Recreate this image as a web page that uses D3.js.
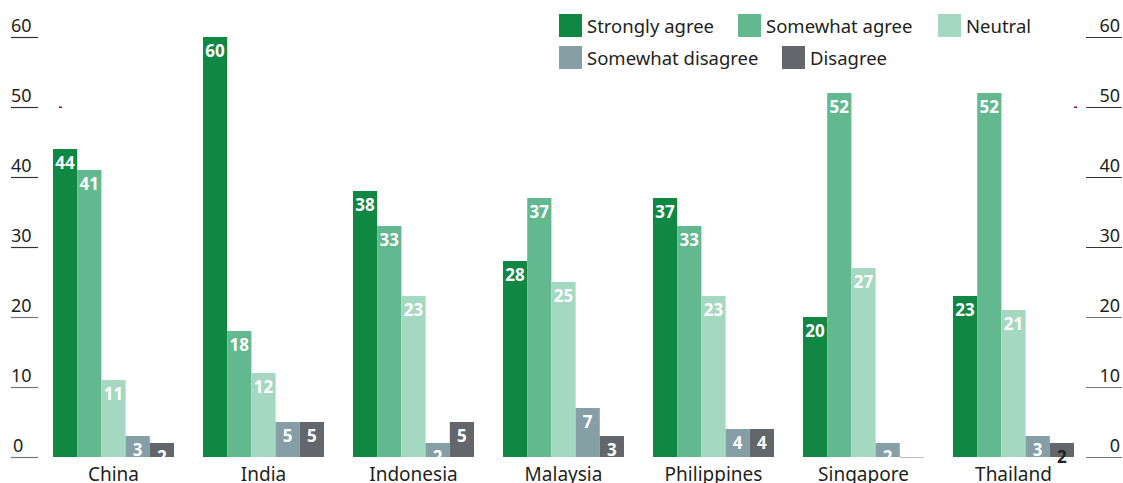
<!DOCTYPE html>
<html>
<head>
<meta charset="utf-8">
<script src="https://cdn.jsdelivr.net/npm/d3@7"></script>
<style>
  body { margin: 0; background: #fff; }
  svg { display: block; font-family: "Noto Sans", sans-serif; }
</style>
</head>
<body>
<div id="chart"></div>
<script>
var countries = ['China', 'India', 'Indonesia', 'Malaysia', 'Philippines', 'Singapore', 'Thailand'];
var seriesNames = ['Strongly agree', 'Somewhat agree', 'Neutral', 'Somewhat disagree', 'Disagree'];
var stronglyAgree = [44, 60, 38, 28, 37, 20, 23];
var somewhatAgree = [41, 18, 33, 37, 33, 52, 52];
var neutral = [11, 12, 23, 25, 23, 27, 21];
var somewhatDisagree = [3, 5, 2, 7, 4, 2, 3];
var disagree = [2, 5, 5, 3, 4, 0, 2];
var yTicks = [0, 10, 20, 30, 40, 50, 60];

var colors = ['#118744', '#62b98f', '#a5d8c1', '#869ea6', '#63676b'];

var W = 1123, H = 483;
var svg = d3.select('#chart').append('svg')
    .attr('width', W)
    .attr('height', H);

var seriesValues = [stronglyAgree, somewhatAgree, neutral, somewhatDisagree, disagree];
var data = countries.map(function(c, i) {
    return { country: c, values: seriesValues.map(function(s, j) { return { key: seriesNames[j], idx: j, value: s[i], country: c }; }) };
});

var x0 = d3.scaleBand().domain(countries).range([53, 1074]).paddingInner(29 / 150).paddingOuter(0);
var x1 = d3.scaleBand().domain(seriesNames).range([0, x0.bandwidth()]).padding(0);
var y = d3.scaleLinear().domain([0, 60]).range([457, 37]);

// white value labels get cut at the baseline
svg.append('clipPath').attr('id', 'above-base')
  .append('rect').attr('x', 0).attr('y', 0).attr('width', W).attr('height', y(0));

// axes on both sides (tick line under label)
var axisL = svg.append('g');
axisL.selectAll('line').data(yTicks).enter().append('line')
    .attr('x1', 11).attr('x2', 38)
    .attr('y1', function(d) { return Math.round(y(d)) + 0.5; })
    .attr('y2', function(d) { return Math.round(y(d)) + 0.5; })
    .attr('stroke', function(d) { return d >= 30 ? '#333' : '#777'; })
    .attr('stroke-width', 1.2);
axisL.selectAll('text').data(yTicks).enter().append('text')
    .attr('x', function(d) { return d === 0 ? 13 : 11; })
    .attr('y', function(d) { return y(d) - 5; })
    .attr('font-size', 18)
    .attr('fill', '#231f20')
    .text(function(d) { return d; });

var axisR = svg.append('g');
axisR.selectAll('line').data(yTicks).enter().append('line')
    .attr('x1', 1086).attr('x2', 1122)
    .attr('y1', function(d) { return Math.round(y(d)) + 0.5; })
    .attr('y2', function(d) { return Math.round(y(d)) + 0.5; })
    .attr('stroke', function(d) { return d >= 30 ? '#333' : '#777'; })
    .attr('stroke-width', 1.2);
axisR.selectAll('text').data(yTicks).enter().append('text')
    .attr('x', 1120)
    .attr('y', function(d) { return y(d) - 5; })
    .attr('text-anchor', 'end')
    .attr('font-size', 18)
    .attr('fill', '#231f20')
    .text(function(d) { return d; });

// little red marks next to 50
svg.append('rect').attr('x', 59).attr('y', y(50) - 0.5).attr('width', 3).attr('height', 1.5).attr('fill', '#a01010');
svg.append('rect').attr('x', 1074).attr('y', y(50) - 0.5).attr('width', 3).attr('height', 1.5).attr('fill', '#a01010');

// bars
var groups = svg.selectAll('.group').data(data).enter().append('g')
    .attr('class', 'group')
    .attr('transform', function(d) { return 'translate(' + x0(d.country) + ',0)'; });

groups.selectAll('rect').data(function(d) { return d.values; }).enter().append('rect')
    .attr('x', function(d) { return x1(d.key); })
    .attr('y', function(d) { return y(d.value); })
    .attr('width', x1.bandwidth())
    .attr('height', function(d) { return y(0) - y(d.value); })
    .attr('fill', function(d) { return colors[d.idx]; });

// zero-value bar marker
groups.selectAll('.zero').data(function(d) { return d.values.filter(function(v) { return v.value === 0; }); })
    .enter().append('line')
    .attr('x1', function(d) { return x1(d.key); })
    .attr('x2', function(d) { return x1(d.key) + x1.bandwidth(); })
    .attr('y1', y(0) + 0.5).attr('y2', y(0) + 0.5)
    .attr('stroke', '#bbb');

groups.selectAll('.val').data(function(d) { return d.values.filter(function(v) { return v.value > 0; }); })
    .enter().append('text')
    .attr('class', 'val')
    .attr('x', function(d) { return x1(d.key) + x1.bandwidth() / 2; })
    .attr('y', function(d) { return y(d.value) + 20; })
    .attr('text-anchor', 'middle')
    .attr('font-size', 17)
    .attr('font-weight', 700)
    .attr('fill', function(d) { return (d.country === 'Thailand' && d.idx === 4) ? '#222' : '#fff'; })
    .attr('clip-path', function(d) { return (d.country === 'Thailand' && d.idx === 4) ? null : 'url(#above-base)'; })
    .text(function(d) { return d.value; });

// category labels
svg.selectAll('.cat').data(countries).enter().append('text')
    .attr('class', 'cat')
    .attr('x', function(d) { return x0(d) + x0.bandwidth() / 2; })
    .attr('y', 481)
    .attr('text-anchor', 'middle')
    .attr('font-size', 19)
    .attr('fill', '#231f20')
    .text(function(d) { return d; });

// legend
var legendPos = [[559, 14], [738, 14], [938, 14], [559, 46], [782, 46]];
var legend = svg.selectAll('.legend').data(seriesNames).enter().append('g')
    .attr('class', 'legend')
    .attr('transform', function(d, i) { return 'translate(' + legendPos[i][0] + ',' + legendPos[i][1] + ')'; });
legend.append('rect')
    .attr('width', 23).attr('height', 23)
    .attr('fill', function(d, i) { return colors[i]; });
legend.append('text')
    .attr('x', 28).attr('y', 19)
    .attr('font-size', 18.5)
    .attr('fill', '#231f20')
    .text(function(d) { return d; });
</script>
</body>
</html>
